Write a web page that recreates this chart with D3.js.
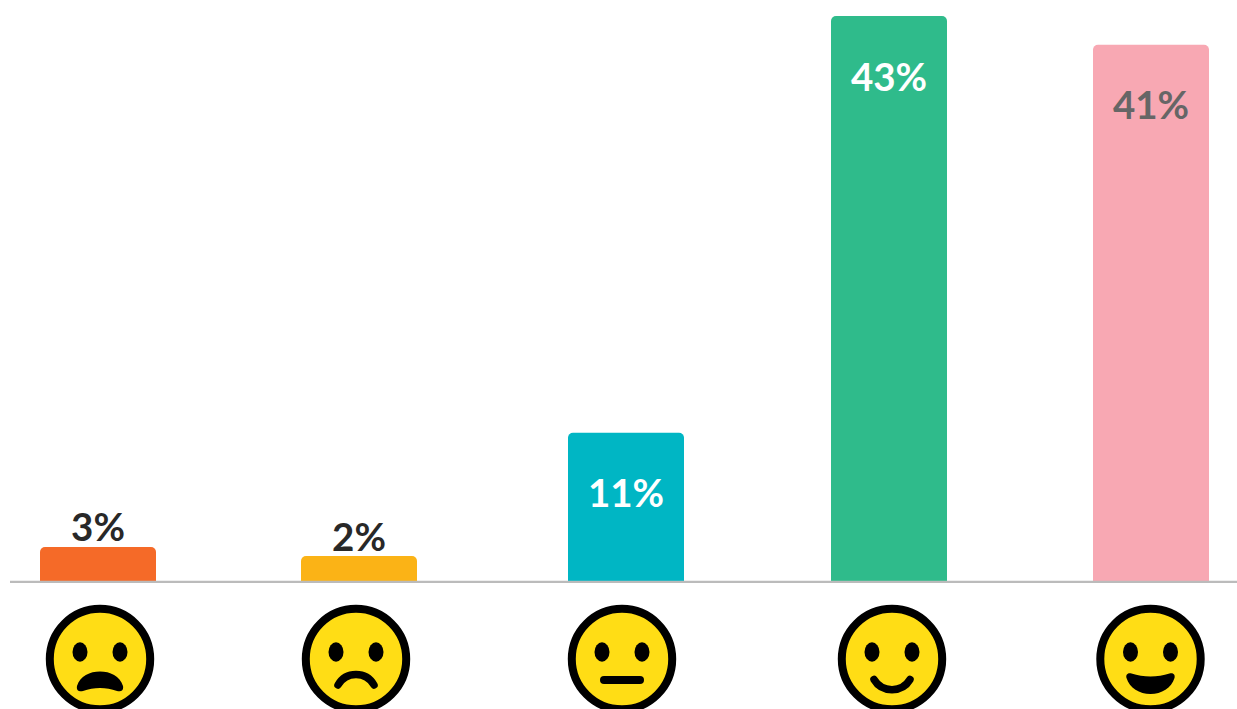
<!DOCTYPE html>
<html>
<head>
<meta charset="utf-8">
<script src="https://cdn.jsdelivr.net/npm/d3@7/dist/d3.min.js"></script>
<style>
html,body{margin:0;padding:0;background:#fff;overflow:hidden}
svg{display:block}
text{font-family:Lato,"Noto Sans",sans-serif;font-weight:700}
</style>
</head>
<body>
<svg id="chart" width="1237" height="709"></svg>
<script>
// Data
const categories = ["Very unhappy", "Unhappy", "Neutral", "Happy", "Very happy"];
const values = [2.6, 1.9, 11.3, 43.1, 40.9];
const valueLabels = ["3%", "2%", "11%", "43%", "41%"];
const barColors = ["#F56A28", "#FBB316", "#00B6C4", "#2FBB8B", "#F8A8B3"];
const labelColors = ["#282828", "#282828", "#FFFFFF", "#FFFFFF", "#666666"];
const labelInside = [false, false, true, true, true];
const faceKinds = ["fear", "frown", "neutral", "smile", "grin"];

// Small layout deviations of the original from an even grid
const barNudge = [0, -1, 4, 5, 5];
const faceNudge = [2, -4, 0, 8, 4.5];

const W = 1237, H = 709, baseY = 581, topY = 16;
const svg = d3.select("#chart");

const x = d3.scalePoint().domain(categories).range([98, 1146]);
const y = d3.scaleLinear().domain([0, 43.1]).range([baseY, topY]);
const barW = 116, r = 5;

function barPath(i) {
  const cx = x(categories[i]) + barNudge[i];
  const x0 = cx - barW / 2, x1 = cx + barW / 2, t = y(values[i]), b = y(0);
  const p = d3.path();
  p.moveTo(x0, b);
  p.lineTo(x0, t + r);
  p.arcTo(x0, t, x0 + r, t, r);
  p.lineTo(x1 - r, t);
  p.arcTo(x1, t, x1, t + r, r);
  p.lineTo(x1, b);
  p.closePath();
  return p.toString();
}

const idx = d3.range(categories.length);

svg.append("g").selectAll("path").data(idx).join("path")
  .attr("d", barPath)
  .attr("fill", i => barColors[i]);

svg.append("line")
  .attr("x1", 10).attr("x2", W)
  .attr("y1", y(0) + 0.9).attr("y2", y(0) + 0.9)
  .attr("stroke", "#BBBBBB").attr("stroke-width", 2.4);

svg.append("g").selectAll("text").data(idx).join("text")
  .attr("x", i => x(categories[i]) + barNudge[i])
  .attr("y", i => labelInside[i] ? y(values[i]) + 74.5 : y(values[i]) - 5.5)
  .attr("text-anchor", "middle")
  .attr("font-size", 38.5)
  .attr("fill", i => labelColors[i])
  .text(i => valueLabels[i]);

// Faces
const faceCy = 659, faceR = 50.2, faceStroke = 8;
const mouths = {
  fear(g) {
    g.append("path").attr("fill", "#000")
      .attr("d", "M-23,27 C-20,17 -10,12.5 0,12.5 C10,12.5 20,17 23,27 C24,32 20,33 17,32 C6,28 -6,28 -17,32 C-20,33 -24,32 -23,27 Z");
  },
  frown(g) {
    g.append("path").attr("fill", "none").attr("stroke", "#000")
      .attr("stroke-width", 7.5).attr("stroke-linecap", "round")
      .attr("d", "M-18,26 C-10,12 10,12 18,26");
  },
  neutral(g) {
    g.append("line").attr("x1", -18).attr("x2", 18).attr("y1", 21).attr("y2", 21)
      .attr("stroke", "#000").attr("stroke-width", 8).attr("stroke-linecap", "round");
  },
  smile(g) {
    g.append("path").attr("fill", "none").attr("stroke", "#000")
      .attr("stroke-width", 7.5).attr("stroke-linecap", "round")
      .attr("d", "M-18,20.5 C-10,34 10,34 18,20.5");
  },
  grin(g) {
    g.append("path").attr("fill", "#000")
      .attr("d", "M-24,19 C-25,15 -22,13.5 -19,14.5 C-7,18.5 7,18.5 19,14.5 C22,13.5 25,15 24,19 C21,29 11,35 0,35 C-11,35 -21,29 -24,19 Z");
  }
};

const faces = svg.append("g").selectAll("g").data(idx).join("g")
  .attr("transform", i => `translate(${x(categories[i]) + faceNudge[i]},${faceCy})`);

faces.append("circle").attr("r", faceR)
  .attr("fill", "#FFDD15").attr("stroke", "#000").attr("stroke-width", faceStroke);
faces.selectAll("ellipse").data([-20, 20]).join("ellipse")
  .attr("cx", d => d).attr("cy", -7).attr("rx", 7.5).attr("ry", 9.7).attr("fill", "#000");
faces.each(function(i) { mouths[faceKinds[i]](d3.select(this)); });
</script>
</body>
</html>
